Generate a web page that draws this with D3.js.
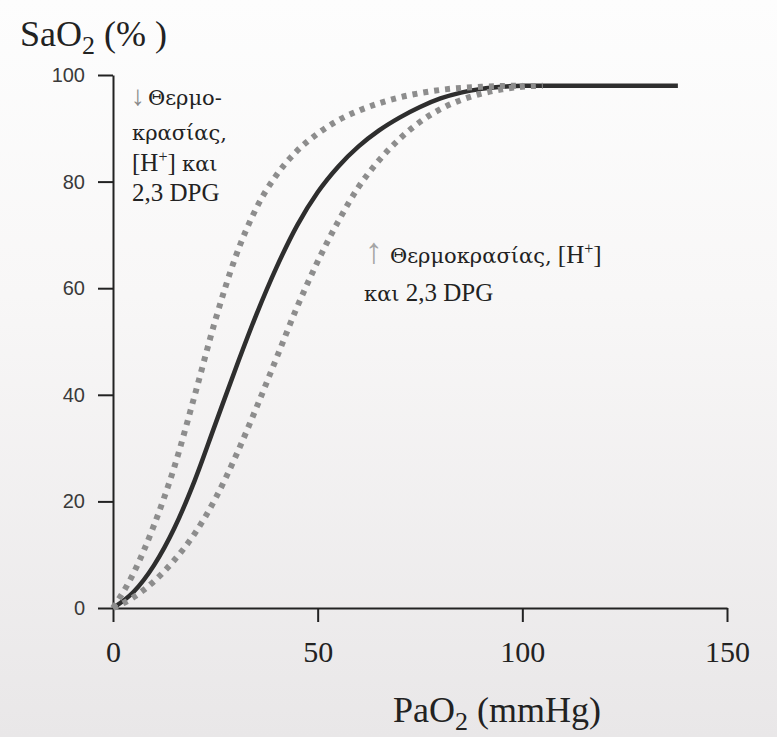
<!DOCTYPE html>
<html>
<head>
<meta charset="utf-8">
<script src="https://cdn.jsdelivr.net/npm/d3@7/dist/d3.min.js"></script>
<style>
  html, body { margin: 0; padding: 0; }
  body { width: 777px; height: 737px; overflow: hidden; }
  .serif { font-family: "Liberation Serif", "Times New Roman", serif; }
  .greek { font-family: "DejaVu Serif", "Liberation Serif", serif; }
</style>
</head>
<body>
<svg id="chart" width="777" height="737"></svg>
<script>
// Oxyhaemoglobin dissociation curve: PaO2 (mmHg) vs SaO2 (%)
const xTicks = [0, 50, 100, 150];
const yTicks = [0, 20, 40, 60, 80, 100];

// normal curve
const normalPaO2 = [0, 5, 10, 15, 20, 25, 30, 35, 40, 45, 50, 55, 60, 65, 70, 75, 80, 85, 90, 95, 100, 138];
const normalSaO2 = [0, 3, 8, 15, 24, 34.5, 45, 55, 64, 71.8, 78, 82.8, 86.6, 89.6, 92, 94, 95.6, 96.7, 97.4, 97.8, 98, 98];

// left-shifted curve (lower temperature, [H+], 2,3 DPG)
const leftPaO2 = [0, 5, 10, 15, 20, 25, 30, 35, 40, 45, 50, 55, 60, 65, 70, 75, 80, 90, 100];
const leftSaO2 = [0, 6.5, 15.5, 26.5, 40, 54, 66, 75, 81.3, 85.8, 89, 91.5, 93.3, 94.7, 95.8, 96.6, 97.2, 97.8, 98];

// right-shifted curve (higher temperature, [H+], 2,3 DPG)
const rightPaO2 = [0, 5, 10, 15, 20, 25, 30, 35, 40, 45, 50, 55, 60, 65, 70, 75, 80, 85, 90, 95, 100, 105];
const rightSaO2 = [0, 2, 5, 9, 14, 20.5, 28.5, 37.5, 47, 56.5, 65, 72.5, 79, 84, 88, 91.2, 93.6, 95.3, 96.5, 97.3, 97.8, 98];

const svg = d3.select("#chart");

// paper background
const defs = svg.append("defs");
const grad = defs.append("linearGradient").attr("id", "paper")
  .attr("x1", 0).attr("y1", 0).attr("x2", 0).attr("y2", 1);
grad.append("stop").attr("offset", "0%").attr("stop-color", "#fdfdfd");
grad.append("stop").attr("offset", "40%").attr("stop-color", "#f8f7f7");
grad.append("stop").attr("offset", "100%").attr("stop-color", "#e9e7e8");
svg.append("rect").attr("width", 777).attr("height", 737).attr("fill", "url(#paper)");

const x = d3.scaleLinear().domain([0, 150]).range([113, 727]);
const y = d3.scaleLinear().domain([0, 100]).range([608, 75]);

// axes
const yAxis = svg.append("g").attr("transform", `translate(${x(0)},0)`)
  .call(d3.axisLeft(y).tickValues(yTicks).tickSize(15).tickSizeOuter(0).tickPadding(13));
yAxis.attr("font-family", "'Liberation Sans', Arial, sans-serif").attr("font-size", 20);
yAxis.selectAll("text").attr("fill", "#3a3a3a");

const xAxis = svg.append("g").attr("transform", `translate(0,${y(0)})`)
  .call(d3.axisBottom(x).tickValues(xTicks).tickSize(14).tickSizeOuter(0).tickPadding(19));
xAxis.attr("font-family", "'Liberation Serif', 'Times New Roman', serif").attr("font-size", 30);
xAxis.selectAll("text").attr("fill", "#222");

svg.selectAll(".domain, .tick line").attr("stroke", "#222").attr("stroke-width", 2);

// curves
const line = d3.line().x(d => x(d[0])).y(d => y(d[1])).curve(d3.curveMonotoneX);
const zip = (a, b) => a.map((v, i) => [v, b[i]]);

svg.append("path").datum(zip(normalPaO2, normalSaO2))
  .attr("d", line).attr("fill", "none")
  .attr("stroke", "#2e2e2e").attr("stroke-width", 4.5);

[zip(leftPaO2, leftSaO2), zip(rightPaO2, rightSaO2)].forEach(data => {
  svg.append("path").datum(data)
    .attr("d", line).attr("fill", "none")
    .attr("stroke", "#8d8d8d").attr("stroke-width", 6)
    .attr("stroke-dasharray", "5 6");
});

// titles
const yTitle = svg.append("text").attr("class", "serif").attr("x", 20).attr("y", 46)
  .attr("font-size", 36).attr("fill", "#222");
yTitle.append("tspan").text("SaO");
yTitle.append("tspan").attr("dy", 8).attr("font-size", 26).text("2");
yTitle.append("tspan").attr("dy", -8).text(" (% )");

const xTitle = svg.append("text").attr("class", "serif").attr("x", 497).attr("y", 722)
  .attr("text-anchor", "middle").attr("font-size", 36).attr("fill", "#222");
xTitle.append("tspan").text("PaO");
xTitle.append("tspan").attr("dy", 8).attr("font-size", 26).text("2");
xTitle.append("tspan").attr("dy", -8).text(" (mmHg)");

// annotations: Latin parts in Liberation Serif, Greek words in DejaVu Serif
function ann(xp, yp) {
  return svg.append("text").attr("class", "serif").attr("x", xp).attr("y", yp)
    .attr("font-size", 25).attr("fill", "#222");
}
const gr = (t, s) => t.append("tspan").attr("class", "greek").attr("font-size", 21).text(s);

ann(131, 105).call(t => {
  t.append("tspan").attr("fill", "#8a8a8a").attr("font-size", 28).text("↓");
  t.append("tspan").attr("dx", 3).attr("class", "greek").attr("font-size", 21).text("Θερμο-");
});
ann(132, 140).call(t => gr(t, "κρασίας,"));
ann(132, 171).call(t => {
  t.append("tspan").text("[H");
  t.append("tspan").attr("dy", -9).attr("font-size", 16).text("+");
  t.append("tspan").attr("dy", 9).text("] ");
  gr(t, "και");
});
ann(132, 201).text("2,3 DPG");

ann(365, 263).attr("font-size", 36).attr("fill", "#a5a5a5").text("↑");
ann(390, 263).call(t => {
  gr(t, "Θερμοκρασίας,");
  t.append("tspan").text(" [H");
  t.append("tspan").attr("dy", -9).attr("font-size", 16).text("+");
  t.append("tspan").attr("dy", 9).text("]");
});
ann(364, 301).call(t => {
  gr(t, "και");
  t.append("tspan").text(" 2,3 DPG");
});
</script>
</body>
</html>
